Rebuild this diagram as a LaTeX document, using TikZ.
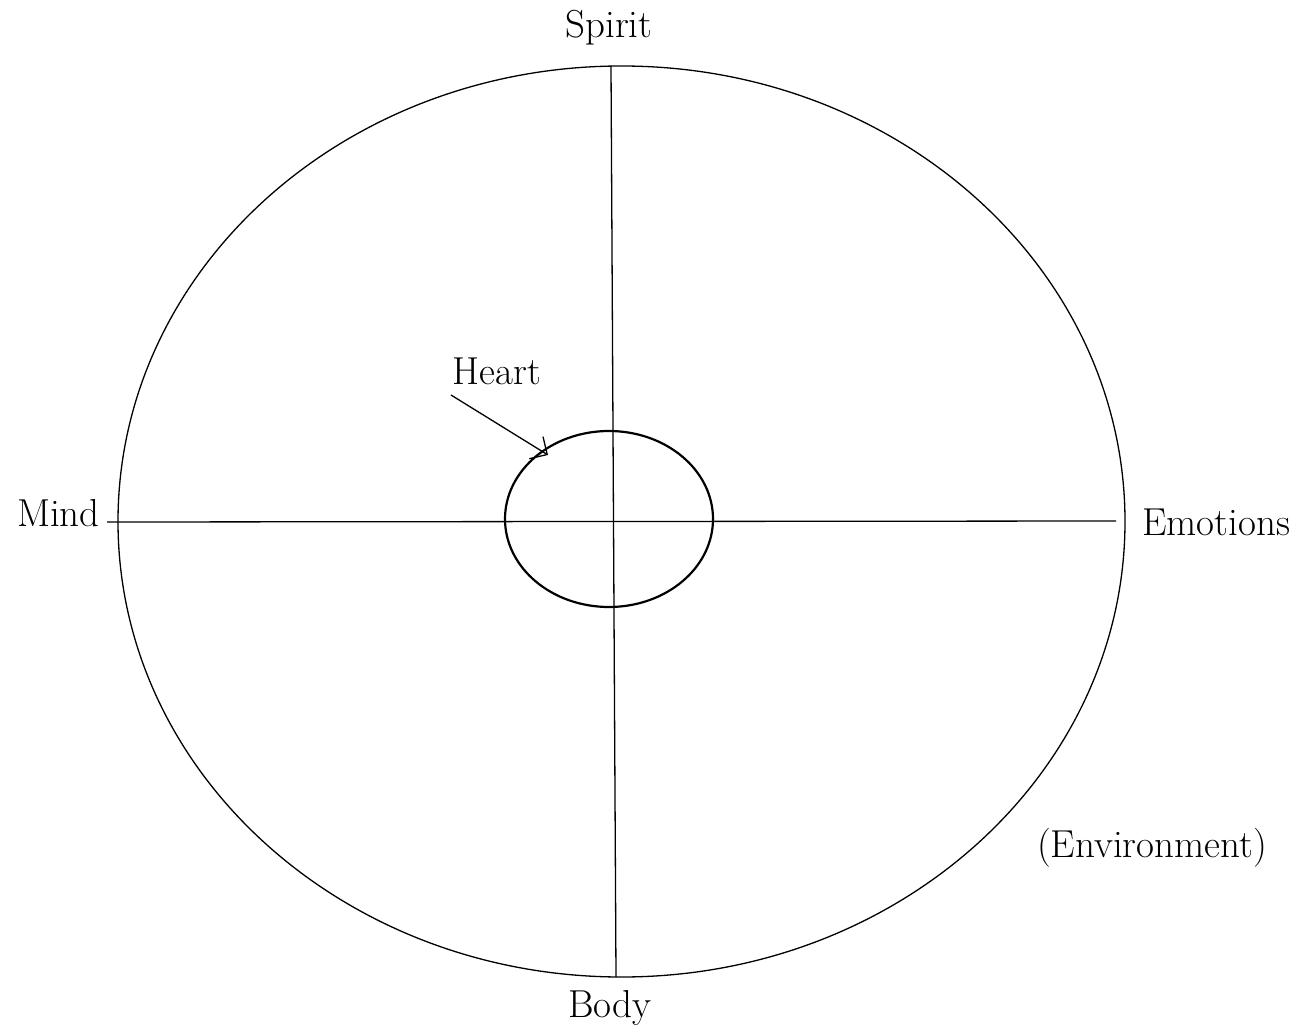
\documentclass[tikz,border=0pt]{standalone}
\usetikzlibrary{shapes.geometric,arrows.meta}
\begin{document}
\begin{tikzpicture}[x=1pt,y=-1pt,
  lbl/.style={inner sep=0pt,font=\fontsize{39}{43}\selectfont},
  thinline/.style={line width=1.3pt},
  thickline/.style={line width=2.2pt}]
\useasboundingbox (0,0) rectangle (1312,1032);
\draw[thinline] (621.5,521.5) ellipse [x radius=503.5, y radius=455.5];
\node[draw,thickline,ellipse,minimum width=208pt,minimum height=176pt,inner sep=0pt] (heart) at (609,519) {};
\coordinate (top) at (611,66);
\coordinate (bot) at (616,977);
\coordinate (lft) at (107,522);
\coordinate (rgt) at (1116,521);
\draw[thinline] (top) -- (bot);
\draw[thinline] (lft) -- (rgt);
\node[lbl] (spirit) at (609,28) {Spirit};
\node[lbl] (body) at (610,1008) {Body};
\node[lbl,anchor=east] (mind) at (100,513) {Mind};
\node[lbl,anchor=west] (emo) at (1142,522) {Emotions};
\node[lbl] (env) at (1152,848) {(Environment)};
\node[lbl] (heartlbl) at (497,371) {Heart};
\coordinate (arrs) at (451,395);
\coordinate (arre) at (548,455);
\draw[thinline,-{Straight Barb[length=13pt,width=26pt]}] (arrs) -- (arre);
\end{tikzpicture}
\end{document}
